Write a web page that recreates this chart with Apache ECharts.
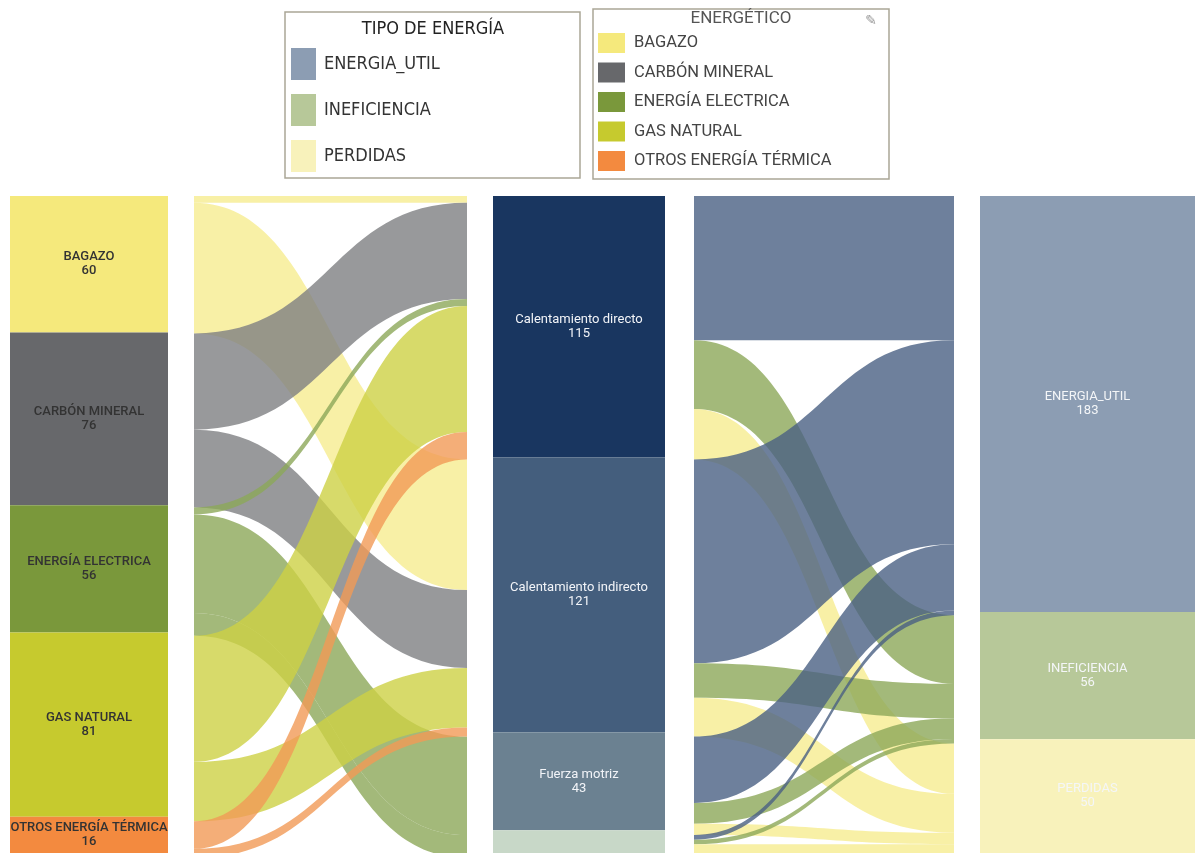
<!DOCTYPE html>
<html>
<head>
<meta charset="utf-8">
<title>Flujo de energía</title>
<script src="https://cdn.jsdelivr.net/npm/echarts@6/dist/echarts.min.js"></script>
<style>
html, body { margin: 0; padding: 0; background: #fff; }
#main { width: 1195px; height: 853px; }
</style>
</head>
<body>
<div id="main"></div>
<script>
// energéticos (columna izquierda)
var fuentes = ['BAGAZO', 'CARBÓN MINERAL', 'ENERGÍA ELECTRICA', 'GAS NATURAL', 'OTROS ENERGÍA TÉRMICA'];
var fuenteValores = [60, 76, 56, 81, 16];

// usos finales (columna central)
var usos = ['Calentamiento directo', 'Calentamiento indirecto', 'Fuerza motriz', 'Iluminación'];
var usoValores = [115, 121, 43, 10];

// tipo de energía (columna derecha)
var tipos = ['ENERGIA_UTIL', 'INEFICIENCIA', 'PERDIDAS'];
var tipoValores = [183, 56, 50];

// flujos energético -> uso
var flujosUso = [
	['BAGAZO', 'Calentamiento directo', 3],
	['BAGAZO', 'Calentamiento indirecto', 57],
	['CARBÓN MINERAL', 'Calentamiento directo', 42],
	['CARBÓN MINERAL', 'Calentamiento indirecto', 34],
	['ENERGÍA ELECTRICA', 'Calentamiento directo', 3],
	['ENERGÍA ELECTRICA', 'Fuerza motriz', 43],
	['ENERGÍA ELECTRICA', 'Iluminación', 10],
	['GAS NATURAL', 'Calentamiento directo', 55],
	['GAS NATURAL', 'Calentamiento indirecto', 26],
	['OTROS ENERGÍA TÉRMICA', 'Calentamiento directo', 12],
	['OTROS ENERGÍA TÉRMICA', 'Calentamiento indirecto', 4]
];

// flujos uso -> tipo de energía
var flujosTipo = [
	['Calentamiento directo', 'ENERGIA_UTIL', 63],
	['Calentamiento directo', 'INEFICIENCIA', 30],
	['Calentamiento directo', 'PERDIDAS', 22],
	['Calentamiento indirecto', 'ENERGIA_UTIL', 89],
	['Calentamiento indirecto', 'INEFICIENCIA', 15],
	['Calentamiento indirecto', 'PERDIDAS', 17],
	['Fuerza motriz', 'ENERGIA_UTIL', 29],
	['Fuerza motriz', 'INEFICIENCIA', 9],
	['Fuerza motriz', 'PERDIDAS', 5],
	['Iluminación', 'ENERGIA_UTIL', 2],
	['Iluminación', 'INEFICIENCIA', 2],
	['Iluminación', 'PERDIDAS', 6]
];

var coloresFuente = ['#F5E97C', '#67686B', '#7A983B', '#C6CA2E', '#F38A3F'];
var coloresFuenteFlujo = {
	'BAGAZO': '#F6EC90',
	'CARBÓN MINERAL': '#7E7F82',
	'ENERGÍA ELECTRICA': '#8CA759',
	'GAS NATURAL': '#CDD145',
	'OTROS ENERGÍA TÉRMICA': '#F19A56'
};
var coloresUso = ['#193660', '#445E7D', '#6B8191', '#C8D8C8'];
var coloresTipo = ['#8C9DB3', '#B7C899', '#F8F2BB'];
var coloresTipoFlujo = {
	'ENERGIA_UTIL': '#4A6083',
	'INEFICIENCIA': '#8CA759',
	'PERDIDAS': '#F6EC90'
};

var total = fuenteValores.reduce(function(a, b){ return a + b; }, 0);
var top0 = 196, alto = 662;
var fuenteAngosta = '"Liberation Sans Narrow", "DejaVu Sans Condensed", Roboto';

var chart = echarts.init(document.getElementById('main'));

// columna de nodos como barra apilada
var columna = function(nombres, valores, colores, idx, labelColor, fontSize, peso, ocultar){
	return nombres.map(function(n, i){
		return {
			name: n,
			type: 'bar',
			stack: 'col' + idx,
			xAxisIndex: idx,
			yAxisIndex: idx,
			barWidth: '100%',
			data: [valores[i]],
			itemStyle: { color: colores[i] },
			emphasis: { disabled: true },
			label: {
				show: ocultar ? ocultar.indexOf(n) < 0 : true,
				position: 'inside',
				formatter: '{a}\n{c}',
				color: labelColor,
				fontSize: fontSize,
				fontWeight: peso,
				lineHeight: 14,
				fontFamily: 'Roboto'
			}
		};
	});
};

var flujos = function(lista, nodos, colorMap, porFuente, left, width){
	return {
		type: 'sankey',
		left: left,
		top: top0,
		width: width,
		height: alto,
		nodeWidth: 1,
		nodeGap: 0,
		layoutIterations: 0,
		draggable: false,
		label: { show: false },
		itemStyle: { opacity: 0, borderWidth: 0 },
		emphasis: { disabled: true },
		lineStyle: { opacity: 0.8, curveness: 0.5 },
		data: nodos.map(function(n){ return { name: n }; }),
		links: lista.map(function(f){
			return {
				source: f[0],
				target: f[1],
				value: f[2],
				lineStyle: { color: colorMap[porFuente ? f[0] : f[1]] }
			};
		})
	};
};

var series = []
	.concat(columna(fuentes, fuenteValores, coloresFuente, 0, '#333', 13, 500))
	.concat(columna(usos, usoValores, coloresUso, 1, '#f2f4f8', 13, 'normal', ['Iluminación']))
	.concat(columna(tipos, tipoValores, coloresTipo, 2, '#f4f6f8', 13, 'normal'))
	.concat([
		flujos(flujosUso, fuentes.concat(usos), coloresFuenteFlujo, true, 193, 275),
		flujos(flujosTipo, usos.concat(tipos), coloresTipoFlujo, false, 693, 262)
	]);

var option = {
	backgroundColor: '#fff',
	animation: false,
	grid: [
		{ left: 10, top: top0, width: 158, height: alto },
		{ left: 493, top: top0, width: 172, height: alto },
		{ left: 980, top: top0, width: 215, height: alto }
	],
	xAxis: [0, 1, 2].map(function(i){
		return { gridIndex: i, type: 'category', data: [''], show: false };
	}),
	yAxis: [0, 1, 2].map(function(i){
		return { gridIndex: i, type: 'value', inverse: true, min: 0, max: total, show: false };
	}),
	legend: [
		{
			data: tipos,
			orient: 'vertical',
			left: 286,
			top: 43,
			icon: 'rect',
			itemWidth: 25,
			itemHeight: 32,
			itemGap: 14,
			selectedMode: false,
			textStyle: {
				fontSize: 18,
				color: '#333',
				fontFamily: fuenteAngosta,
				padding: [0, 0, 0, 3]
			}
		},
		{
			data: fuentes,
			orient: 'vertical',
			left: 593,
			top: 28,
			icon: 'rect',
			itemWidth: 27,
			itemHeight: 20,
			itemGap: 9.5,
			selectedMode: false,
			textStyle: { fontSize: 16.5, color: '#444', fontFamily: 'Roboto', padding: [0, 0, 0, 4] }
		}
	],
	graphic: [
		{ type: 'rect', shape: { x: 285, y: 12, width: 295, height: 166 }, style: { fill: 'none', stroke: '#aaa696', lineWidth: 1.5 } },
		{ type: 'rect', shape: { x: 593, y: 9, width: 296, height: 170 }, style: { fill: 'none', stroke: '#aaa696', lineWidth: 1.5 } },
		{ type: 'text', x: 433, y: 29, style: { text: 'TIPO DE ENERGÍA', fill: '#222', font: '18px ' + fuenteAngosta, textAlign: 'center', textVerticalAlign: 'middle' } },
		{ type: 'text', x: 741, y: 19, style: { text: 'ENERGÉTICO', fill: '#555', font: '17px Roboto', textAlign: 'center', textVerticalAlign: 'middle' } },
		{ type: 'text', x: 871, y: 21, style: { text: '✎', fill: '#999', font: '14px "DejaVu Sans"', textAlign: 'center', textVerticalAlign: 'middle' } }
	],
	series: series
};
chart.setOption(option);
</script>
</body>
</html>
